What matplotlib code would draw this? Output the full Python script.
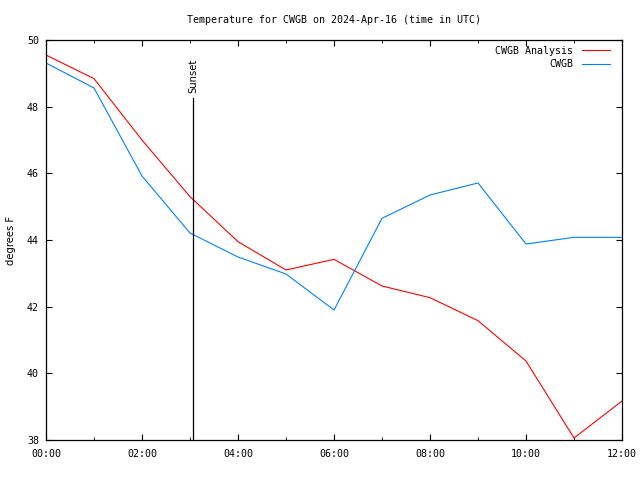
import numpy as np
import matplotlib
matplotlib.use("Agg")
import matplotlib.pyplot as plt

plt.rcParams['font.family'] = ['DejaVu Sans Mono']
plt.rcParams['font.size'] = 7.2

# hours after 00:00 UTC
hours = np.arange(0, 13)
analysis = [49.55, 48.84, 47.0, 45.3, 43.95, 43.1, 43.42, 42.62, 42.27,
            41.58, 40.37, 38.06, 39.17]
observed = [49.31, 48.56, 45.92, 44.21, 43.49, 42.98, 41.9, 44.65, 45.35,
            45.71, 43.88, 44.08, 44.08]
sunset_hour = 3.06
sunset_top = 48.25
tick_hours = [0, 2, 4, 6, 8, 10, 12]
tick_labels = ["00:00", "02:00", "04:00", "06:00", "08:00", "10:00", "12:00"]

fig = plt.figure(figsize=(6.4, 4.8), dpi=100)
ax = fig.add_axes([46/640, 40/480, 576/640, 400/480])

ax.plot(hours, analysis, color="#ff0000", lw=0.8, label="CWGB Analysis")
ax.plot(hours, observed, color="#0080ff", lw=0.8, label="CWGB")
ax.plot([sunset_hour, sunset_hour], [38, sunset_top], color="black", lw=0.9)
ax.text(sunset_hour + 0.02, sunset_top + 0.17, "Sunset", rotation=90,
        ha="center", va="bottom", fontfamily="DejaVu Sans")

ax.set_xlim(0, 12)
ax.set_ylim(38, 50)
ax.set_xticks(tick_hours)
ax.set_xticklabels(tick_labels)
ax.set_xticks(np.arange(1, 12, 2), minor=True)
ax.set_yticks(np.arange(38, 51, 2))
ax.tick_params(which="both", direction="in", top=True, right=True)
ax.tick_params(axis="x", which="major", length=4, pad=6.5)
ax.tick_params(axis="y", which="major", length=4, pad=5)
ax.tick_params(which="minor", length=2.2)
for s in ax.spines.values():
    s.set_linewidth(0.9)

ax.set_ylabel("degrees F", labelpad=8, fontfamily="DejaVu Sans")
ax.set_title("Temperature for CWGB on 2024-Apr-16 (time in UTC)",
             fontsize=7.2, pad=12)

leg = ax.legend(loc="upper right", frameon=False, markerfirst=False,
                handlelength=2.8, handletextpad=0.9, borderaxespad=0,
                borderpad=0, labelspacing=0.35,
                bbox_to_anchor=((610 - 46) / 576, (440 - 46) / 400))
for t in leg.get_texts():
    t.set_ha("right")

fig.savefig("out.png", dpi=100)
